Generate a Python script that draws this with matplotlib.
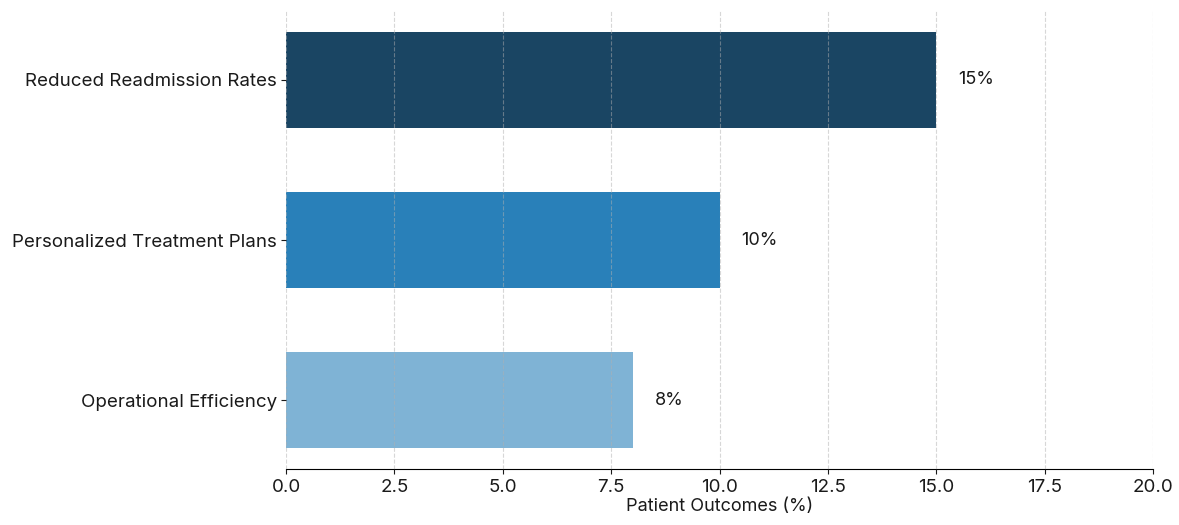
import matplotlib
matplotlib.use("Agg")
import matplotlib.pyplot as plt

categories = ["Operational Efficiency", "Personalized Treatment Plans", "Reduced Readmission Rates"]
values = [8, 10, 15]
labels = ["8%", "10%", "15%"]
colors = ["#7fb3d5", "#2980b9", "#1a4563"]

plt.rcParams['font.family'] = ['Inter', 'DejaVu Sans']
fig = plt.figure(figsize=(11.79, 5.25), dpi=100)
ax = fig.add_axes([0.2426, 0.1067, 0.7354, 0.8723])

ax.barh(categories, values, height=0.6, color=colors)
for i, (v, t) in enumerate(zip(values, labels)):
    ax.text(v + 0.5, i, t, ha='left', va='center', fontsize=13, color='#1a1a1a')

ax.set_xlim(0, 20)
ax.set_xticks([0, 2.5, 5, 7.5, 10, 12.5, 15, 17.5, 20])
ax.set_xticklabels(["0.0", "2.5", "5.0", "7.5", "10.0", "12.5", "15.0", "17.5", "20.0"])
ax.set_xlabel("Patient Outcomes (%)", fontsize=13, color='#1a1a1a', labelpad=2)
ax.tick_params(axis='both', labelsize=13.5, colors='#1a1a1a')
ax.tick_params(axis='y', pad=3)
ax.grid(axis='x', linestyle='--', color='#b0b0b0', alpha=0.5, linewidth=0.8)
ax.set_axisbelow(False)
for s in ['top', 'right', 'left']:
    ax.spines[s].set_visible(False)

fig.savefig("out.png", dpi=100)
